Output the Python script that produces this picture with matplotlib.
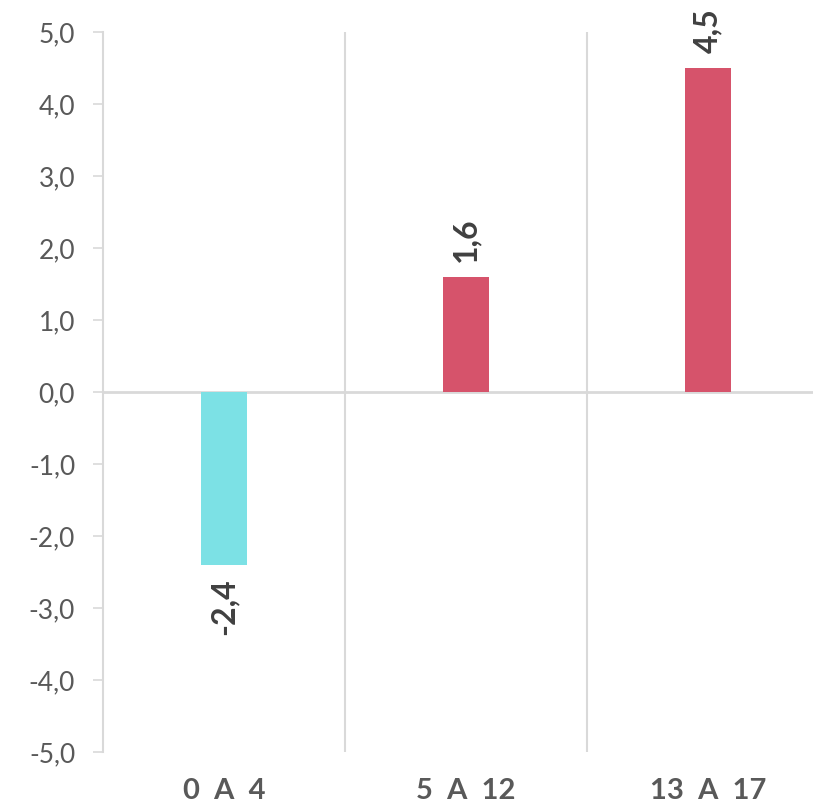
import matplotlib
matplotlib.use("Agg")
import matplotlib.pyplot as plt

categories = ["0  A  4", "5  A  12", "13  A  17"]
values = [-2.4, 1.6, 4.5]
labels = ["-2,4", "1,6", "4,5"]
colors = ["#7CE1E5", "#D6536B"]
yticks = [-5, -4, -3, -2, -1, 0, 1, 2, 3, 4, 5]

plt.rcParams['font.family'] = ['Lato', 'DejaVu Sans']

fig = plt.figure(figsize=(8.13, 8.05), dpi=100)
W, H = 813, 805
ax = fig.add_axes([103 / W, 1 - 752 / H, 726 / W, 720 / H])

x = list(range(len(categories)))
bar_colors = [colors[0] if v < 0 else colors[1] for v in values]
ax.bar(x, values, width=0.186, color=bar_colors, zorder=3)

ax.set_xlim(-0.5, len(categories) - 0.5)
ax.set_ylim(-5, 5)
ax.set_yticks(yticks)
ax.set_yticklabels([f"{t:.1f}".replace(".", ",") for t in yticks])

for b in [0.5, 1.5, 2.5]:
    ax.axvline(b, color="#D9D9D9", lw=1.5, zorder=1)
ax.axhline(0, color="#D9D9D9", lw=2, zorder=2)

for xi, v, lab in zip(x, values, labels):
    if v >= 0:
        ax.annotate(lab, (xi, v), xytext=(0, 11), textcoords="offset points",
                    rotation=90, ha="center", va="bottom", fontsize=23,
                    fontweight="bold", color="#404040")
    else:
        ax.annotate(lab, (xi, v), xytext=(0, -10), textcoords="offset points",
                    rotation=90, ha="center", va="top", fontsize=23,
                    fontweight="bold", color="#404040")

ax.set_xticks(x)
ax.set_xticklabels(categories, fontsize=21, fontweight="bold", color="#595959")
ax.tick_params(axis="x", length=0, pad=19)
ax.tick_params(axis="y", length=7, width=1.2, color="#D9D9D9", labelsize=19,
               labelcolor="#595959", pad=13)

for s in ["top", "right", "bottom"]:
    ax.spines[s].set_visible(False)
ax.spines["left"].set_color("#D9D9D9")
ax.spines["left"].set_linewidth(1.5)

fig.savefig("out.png", dpi=100)
